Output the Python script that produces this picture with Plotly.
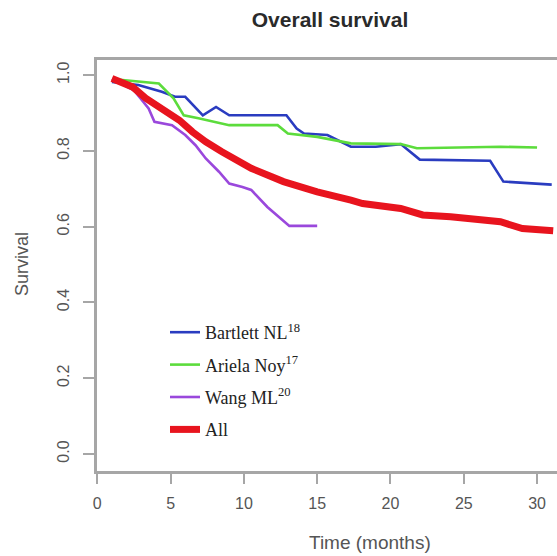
import plotly.graph_objects as go

# ---- data ----
bartlett_t = [1.0, 2.8, 4.4, 5.3, 6.0, 7.2, 8.1, 9.0, 10.8, 12.9, 13.6, 14.1, 15.7, 17.3, 19.0, 20.7, 22.0, 26.8, 27.7, 31.0]
bartlett_s = [0.982, 0.974, 0.956, 0.943, 0.943, 0.894, 0.916, 0.894, 0.894, 0.894, 0.859, 0.846, 0.842, 0.811, 0.811, 0.818, 0.777, 0.774, 0.719, 0.711]

ariela_t = [1.0, 3.1, 4.2, 5.2, 5.9, 6.9, 9.0, 12.3, 13.0, 15.0, 17.3, 20.7, 21.8, 27.5, 30.0]
ariela_s = [0.99, 0.982, 0.978, 0.939, 0.894, 0.886, 0.868, 0.868, 0.846, 0.837, 0.820, 0.818, 0.807, 0.811, 0.809]

wang_t = [1.0, 2.5, 3.5, 3.9, 5.1, 6.0, 6.7, 7.4, 8.3, 9.0, 9.9, 10.5, 11.6, 12.7, 13.1, 15.0]
wang_s = [0.99, 0.96, 0.912, 0.877, 0.868, 0.842, 0.815, 0.780, 0.745, 0.714, 0.705, 0.697, 0.652, 0.617, 0.602, 0.602]

all_t = [1.0, 2.4, 3.3, 4.4, 5.6, 6.5, 7.4, 8.5, 9.9, 10.5, 12.7, 15.0, 17.3, 18.1, 20.7, 22.2, 24.1, 27.5, 29.0, 31.1]
all_s = [0.991, 0.969, 0.939, 0.912, 0.881, 0.850, 0.824, 0.798, 0.767, 0.754, 0.719, 0.692, 0.670, 0.661, 0.648, 0.631, 0.626, 0.613, 0.595, 0.589]

series_names = ["Bartlett NL<sup>18</sup>", "Ariela Noy<sup>17</sup>", "Wang ML<sup>20</sup>", "All"]
x_ticks = [0, 5, 10, 15, 20, 25, 30]
y_ticks = [0.0, 0.2, 0.4, 0.6, 0.8, 1.0]

colors = ["#2a3cc0", "#5cdc3c", "#9a48dc", "#e8141e"]
widths = [2.6, 2.6, 2.6, 7]

fig = go.Figure()
for i, (t, s) in enumerate([(bartlett_t, bartlett_s), (ariela_t, ariela_s),
                             (wang_t, wang_s), (all_t, all_s)]):
    fig.add_trace(go.Scatter(
        x=t, y=s, mode="lines", name=series_names[i],
        legendgroup=f"g{i}",
        line=dict(color=colors[i], width=widths[i]),
    ))

axis_color = "#a6a6a6"
tick_font = dict(family="Liberation Sans, Arial, sans-serif", size=16, color="#555555")

fig.update_layout(
    width=557, height=556,
    margin=dict(l=97, r=0, t=60, b=85),
    paper_bgcolor="white", plot_bgcolor="white",
    title=dict(text="<b>Overall survival</b>", x=330 / 557, xanchor="center",
               y=1 - 20 / 556, yanchor="middle",
               font=dict(family="Liberation Sans, Arial, sans-serif", size=21, color="#2a2a2a")),
    xaxis=dict(range=[-0.02, 31.36], tickvals=x_ticks, showgrid=False, zeroline=False,
               showline=True, linecolor=axis_color, linewidth=2.5, mirror=True,
               ticks="outside", ticklen=10, tickwidth=1.5, tickcolor=axis_color,
               tickfont=tick_font, ticklabelstandoff=6),
    yaxis=dict(range=[-0.045, 1.04], tickvals=y_ticks, tickformat=".1f", showgrid=False,
               zeroline=False, showline=True, linecolor=axis_color, linewidth=2.5,
               ticks="outside", ticklen=11, tickwidth=1.5, tickcolor=axis_color,
               tickangle=-90, tickfont=tick_font, ticklabelstandoff=8),
    legend=dict(x=(165 - 97) / 460, xanchor="left", y=(471 - 314) / 411, yanchor="top",
                bgcolor="rgba(0,0,0,0)", tracegroupgap=6,
                font=dict(family="Liberation Serif, Times New Roman, serif", size=18, color="#222222")),
    showlegend=True,
    annotations=[
        dict(text="Time (months)", xref="paper", yref="paper", x=(370 - 97) / 460,
             y=-(542 - 471) / 411, xanchor="center", yanchor="middle", showarrow=False,
             font=dict(family="Liberation Sans, Arial, sans-serif", size=19, color="#555555")),
        dict(text="Survival", xref="paper", yref="paper", x=-(97 - 22) / 460,
             y=(471 - 264) / 411, xanchor="center", yanchor="middle", textangle=-90,
             showarrow=False,
             font=dict(family="Liberation Sans, Arial, sans-serif", size=18, color="#555555")),
    ],
)

fig.write_html("out.html", config={"displayModeBar": False},
               post_script="document.body.style.margin='0';document.body.style.padding='0';"
                           "document.body.style.overflow='hidden';")
